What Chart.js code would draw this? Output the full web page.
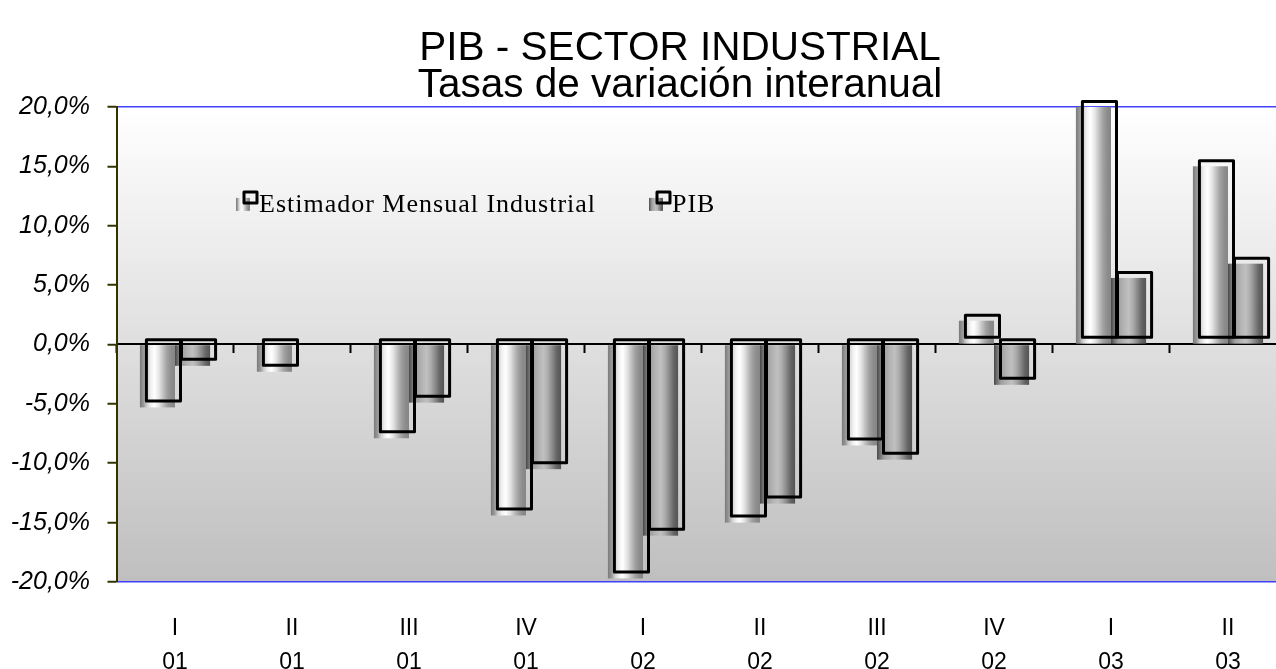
<!DOCTYPE html>
<html>
<head>
<meta charset="utf-8">
<style>
html,body{margin:0;padding:0;background:#fff;overflow:hidden;width:1276px;height:669px}
#wrap{position:absolute;left:0;top:0;width:1360px;height:669px}
canvas{display:block;background:#fff}
</style>
<script src="https://cdn.jsdelivr.net/npm/chart.js"></script>
</head>
<body>
<div id="wrap"><canvas id="c" width="1360" height="669"></canvas></div>
<script>
// ---- data ----
const quarters = ['I','II','III','IV','I','II','III','IV','I','II'];
const years    = ['01','01','01','01','02','02','02','02','03','03'];
const emiValues = [-5.3, -2.3, -7.9, -14.4, -19.7, -15.0, -8.5, 2.0, 20.0, 15.0];
const pibValues = [-1.8, null, -4.9, -10.5, -16.1, -13.4, -9.7, -3.4, 5.6, 6.8];
const seriesNames = ['Estimador Mensual Industrial', 'PIB'];
const titleLines = ['PIB - SECTOR INDUSTRIAL', 'Tasas de variación interanual'];
const yMin = -20, yMax = 20, yStep = 5;

const categoryLabels = quarters.map((q, i) => [q, years[i]]);
const fmtPct = v => v.toFixed(1).replace('.', ',') + '%';

// ---- styles ----
const EMI_STOPS = [[0,'#7a7a7a'],[0.1,'#979797'],[0.2,'#cfcfcf'],[0.32,'#f2f2f2'],[0.42,'#ffffff'],[0.55,'#e4e4e4'],[0.66,'#c2c2c2'],[0.78,'#a0a0a0'],[0.9,'#8c8c8c'],[1,'#868686']];
const PIB_STOPS = [[0,'#484848'],[0.08,'#6e6e6e'],[0.2,'#9e9e9e'],[0.35,'#b2b2b2'],[0.5,'#c0c0c0'],[0.62,'#adadad'],[0.75,'#8a8a8a'],[0.88,'#646464'],[1,'#545454']];
const STOPS = [EMI_STOPS, PIB_STOPS];
const FONT_SANS = "'Liberation Sans', Arial, sans-serif";
const FONT_SERIF = "'Liberation Serif', 'Times New Roman', serif";

function hGrad(ctx, left, width, stops){
  const g = ctx.createLinearGradient(left, 0, left + width, 0);
  stops.forEach(s => g.addColorStop(s[0], s[1]));
  return g;
}

const bgPlugin = {
  id: 'plotBg',
  beforeDraw(chart){
    const {ctx, chartArea: a} = chart;
    ctx.save();
    const g = ctx.createLinearGradient(0, a.top, 0, a.bottom);
    g.addColorStop(0, '#ffffff');
    g.addColorStop(1, '#bfbfbf');
    ctx.fillStyle = g;
    ctx.fillRect(a.left, a.top, a.right - a.left, a.bottom - a.top);
    ctx.restore();
  }
};

const barPlugin = {
  id: 'barLook',
  afterDatasetsDraw(chart){
    const ctx = chart.ctx;
    const rects = [];
    chart.data.datasets.forEach((ds, di) => {
      const meta = chart.getDatasetMeta(di);
      meta.data.forEach((el, i) => {
        if (ds.data[i] == null) return;
        const p = el.getProps(['x','y','base','width'], true);
        const left = p.x - p.width / 2;
        const top = Math.min(p.y, p.base);
        const h = Math.abs(p.base - p.y);
        ctx.save();
        ctx.fillStyle = hGrad(ctx, left, p.width, STOPS[di]);
        ctx.fillRect(left, top, p.width, h);
        ctx.restore();
        rects.push([left, top, p.width, h]);
      });
    });
    ctx.save();
    ctx.strokeStyle = '#000';
    ctx.lineWidth = 3;
    ctx.lineJoin = 'round';
    rects.forEach(([l, t, w, h]) => ctx.strokeRect(l + 6.5, t - 5.5, w - 1, h - 1));
    ctx.restore();
  }
};

const legendPlugin = {
  id: 'innerLegend',
  afterDraw(chart){
    const ctx = chart.ctx;
    const a = chart.chartArea;
    const items = [
      {x: a.left + 119.5, name: seriesNames[0], stops: EMI_STOPS},
      {x: a.left + 532.5, name: seriesNames[1], stops: PIB_STOPS}
    ];
    const cy = a.top + 97;
    ctx.save();
    items.forEach(it => {
      ctx.fillStyle = hGrad(ctx, it.x, 14, it.stops);
      ctx.fillRect(it.x, cy - 6, 14, 13);
      ctx.strokeStyle = '#000';
      ctx.lineWidth = 3;
      ctx.lineJoin = 'round';
      ctx.strokeRect(it.x + 8, cy - 12, 13, 11);
      ctx.fillStyle = '#000';
      ctx.font = '26px ' + FONT_SERIF;
      if ('letterSpacing' in ctx) ctx.letterSpacing = '1px';
      ctx.textAlign = 'left';
      ctx.textBaseline = 'alphabetic';
      ctx.fillText(it.name, it.x + 23, cy + 8);
    });
    ctx.restore();
  }
};

new Chart(document.getElementById('c'), {
  type: 'bar',
  data: {
    labels: categoryLabels,
    datasets: [
      {label: seriesNames[0], data: emiValues, xAxisID: 'x', yAxisID: 'y', backgroundColor: 'rgba(0,0,0,0)', borderWidth: 0},
      {label: seriesNames[1], data: pibValues, xAxisID: 'x', yAxisID: 'y', backgroundColor: 'rgba(0,0,0,0)', borderWidth: 0}
    ]
  },
  options: {
    responsive: false,
    animation: false,
    devicePixelRatio: 1,
    categoryPercentage: 0.6,
    barPercentage: 1.0,
    layout: {padding: {left: 0, right: 0, top: 0, bottom: 0}},
    plugins: {
      legend: {display: false},
      tooltip: {enabled: false},
      title: {
        display: true,
        text: titleLines,
        color: '#000',
        font: {family: FONT_SANS, size: 40.5, weight: 'normal', lineHeight: 0.9},
        padding: {top: 31, bottom: 3}
      }
    },
    scales: {
      x: {
        type: 'category',
        offset: true,
        grid: {display: false},
        border: {display: false},
        ticks: {
          color: '#000',
          font: {family: FONT_SANS, size: 23, lineHeight: 1.48},
          padding: 22,
          maxRotation: 0,
          autoSkip: false
        },
        afterFit: s => { s.height = 87; }
      },
      x2: {
        type: 'category',
        labels: categoryLabels,
        position: {y: 0},
        offset: true,
        grid: {display: true, drawOnChartArea: false, offset: true, tickLength: 8, tickWidth: 2, tickColor: '#000', color: '#000'},
        border: {display: true, color: '#000', width: 2},
        ticks: {display: false}
      },
      y: {
        position: 'left',
        min: yMin,
        max: yMax,
        ticks: {
          stepSize: yStep,
          callback: v => fmtPct(v),
          color: '#000',
          font: {family: FONT_SANS, size: 25, style: 'italic'},
          padding: 17.5
        },
        grid: {
          drawOnChartArea: true,
          color: c => (c.tick && Math.abs(c.tick.value) === 20) ? '#4040ff' : 'rgba(0,0,0,0)',
          lineWidth: 1.5,
          tickColor: '#333300',
          tickLength: 9,
          tickWidth: 2
        },
        border: {display: true, color: '#333300', width: 2},
        afterFit: s => { s.width = 116.5; }
      },
      yR: {
        position: 'right',
        type: 'linear',
        min: yMin,
        max: yMax,
        display: true,
        grid: {display: false},
        border: {display: false},
        ticks: {display: false},
        afterFit: s => { s.width = 73.5; }
      }
    }
  },
  plugins: [bgPlugin, barPlugin, legendPlugin]
});
</script>
</body>
</html>
